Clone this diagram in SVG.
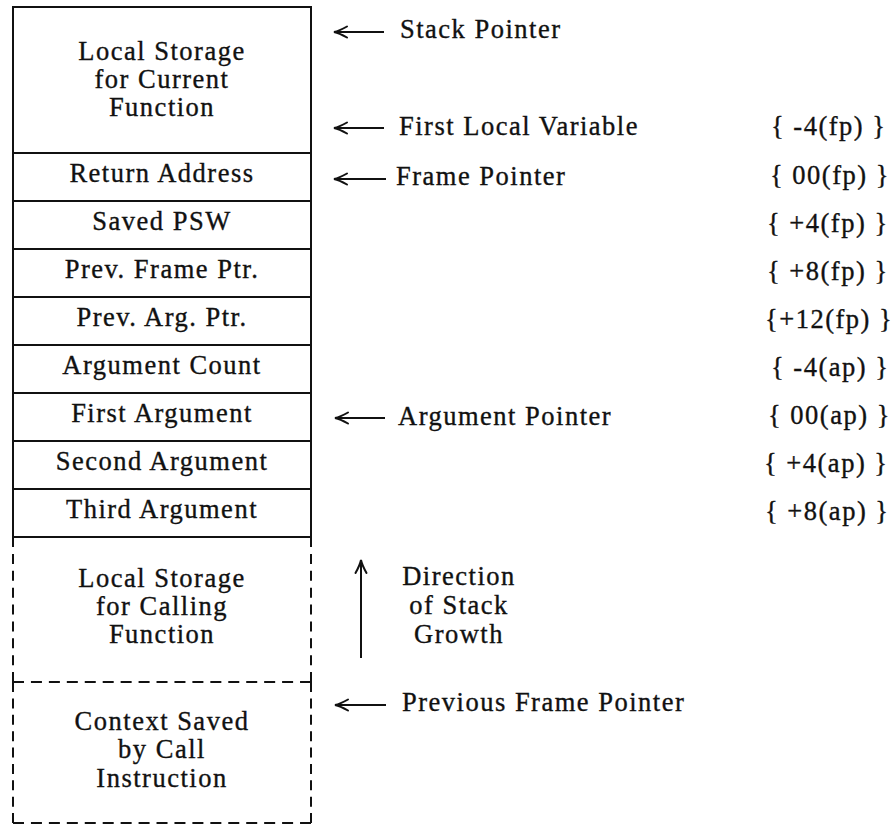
<svg xmlns="http://www.w3.org/2000/svg" width="895" height="826" viewBox="0 0 895 826">
  <style>
    .t { font-family: "Liberation Serif", "Times New Roman", serif; font-size: 26.5px; letter-spacing: 1.5px; fill: #111; stroke: #111; stroke-width: 0.35px; }
    .c { text-anchor: middle; }
    .box { fill: none; stroke: #111; stroke-width: 2; }
    .dv1 { fill: none; stroke: #111; stroke-width: 2; stroke-dasharray: 10 6.875; }
    .dv2 { fill: none; stroke: #111; stroke-width: 2; stroke-dasharray: 10 6.375; }
    .dh { fill: none; stroke: #111; stroke-width: 2; stroke-dasharray: 11 6.94; }
    .arrow { fill: none; stroke: #111; stroke-width: 2; marker-end: url(#head); }
  </style>
  <defs>
    <marker id="head" viewBox="-15 -8 17 16" refX="0" refY="0" markerWidth="17" markerHeight="16" markerUnits="userSpaceOnUse" orient="auto">
      <path d="M-13,-5.5 Q-5,-1 0,0 Q-5,1 -13,5.5" fill="none" stroke="#111" stroke-width="2" stroke-linecap="round"/>
    </marker>
  </defs>
  <rect width="895" height="826" fill="#fff"/>

  <!-- current frame: solid cells -->
  <g id="local-current">
    <rect class="box" x="13" y="7" width="298" height="146"/>
    <text class="t c" x="162" y="60">Local Storage</text>
    <text class="t c" x="162" y="88">for Current</text>
    <text class="t c" x="162" y="116">Function</text>
  </g>
  <g id="return-address">
    <rect class="box" x="13" y="153" width="298" height="48"/>
    <text class="t c" x="162" y="182">Return Address</text>
  </g>
  <g id="saved-psw">
    <rect class="box" x="13" y="201" width="298" height="48"/>
    <text class="t c" x="162" y="230">Saved PSW</text>
  </g>
  <g id="prev-frame-ptr">
    <rect class="box" x="13" y="249" width="298" height="48"/>
    <text class="t c" x="162" y="278">Prev. Frame Ptr.</text>
  </g>
  <g id="prev-arg-ptr">
    <rect class="box" x="13" y="297" width="298" height="48"/>
    <text class="t c" x="162" y="326">Prev. Arg. Ptr.</text>
  </g>
  <g id="argument-count">
    <rect class="box" x="13" y="345" width="298" height="48"/>
    <text class="t c" x="162" y="374">Argument Count</text>
  </g>
  <g id="first-argument">
    <rect class="box" x="13" y="393" width="298" height="48"/>
    <text class="t c" x="162" y="422">First Argument</text>
  </g>
  <g id="second-argument">
    <rect class="box" x="13" y="441" width="298" height="48"/>
    <text class="t c" x="162" y="470">Second Argument</text>
  </g>
  <g id="third-argument">
    <rect class="box" x="13" y="489" width="298" height="48"/>
    <text class="t c" x="162" y="518">Third Argument</text>
  </g>

  <!-- caller's frame: dashed cells -->
  <g id="local-calling">
    <line class="dv1" x1="13" y1="537" x2="13" y2="682"/>
    <line class="dv1" x1="311" y1="537" x2="311" y2="682"/>
    <line class="dh" x1="13" y1="682" x2="311" y2="682"/>
    <text class="t c" x="162" y="587">Local Storage</text>
    <text class="t c" x="162" y="615">for Calling</text>
    <text class="t c" x="162" y="643">Function</text>
  </g>
  <g id="context-saved">
    <line class="dv2" x1="13" y1="682" x2="13" y2="823"/>
    <line class="dv2" x1="311" y1="682" x2="311" y2="823"/>
    <line class="dh" x1="13" y1="823" x2="311" y2="823"/>
    <text class="t c" x="162" y="730">Context Saved</text>
    <text class="t c" x="162" y="758">by Call</text>
    <text class="t c" x="162" y="787">Instruction</text>
  </g>

  <!-- pointer arrows -->
  <g id="connectors">
    <line class="arrow" x1="384" y1="32" x2="334" y2="32"/>
    <line class="arrow" x1="384" y1="128" x2="334" y2="128"/>
    <line class="arrow" x1="386" y1="179" x2="334" y2="179"/>
    <line class="arrow" x1="385" y1="418" x2="335" y2="418"/>
    <line class="arrow" x1="386" y1="705" x2="335" y2="705"/>
    <line class="arrow" x1="361" y1="658" x2="361" y2="560"/>
  </g>

  <!-- pointer names -->
  <g id="stack-pointer"><text class="t" x="400" y="38">Stack Pointer</text></g>
  <g id="first-local-variable"><text class="t" x="399" y="135">First Local Variable</text></g>
  <g id="frame-pointer"><text class="t" x="396" y="185">Frame Pointer</text></g>
  <g id="argument-pointer"><text class="t" x="398" y="425">Argument Pointer</text></g>
  <g id="previous-frame-pointer"><text class="t" x="402" y="711">Previous Frame Pointer</text></g>
  <g id="stack-growth">
    <text class="t c" x="459" y="585">Direction</text>
    <text class="t c" x="459" y="614">of Stack</text>
    <text class="t c" x="459" y="643">Growth</text>
  </g>

  <!-- offsets from fp / ap -->
  <g id="offsets">
    <text class="t" x="771" y="135">{ -4(fp) }</text>
    <text class="t" x="770" y="184">{ 00(fp) }</text>
    <text class="t" x="767" y="232">{ +4(fp) }</text>
    <text class="t" x="767" y="280">{ +8(fp) }</text>
    <text class="t" x="765" y="328">{+12(fp) }</text>
    <text class="t" x="771" y="376">{ -4(ap) }</text>
    <text class="t" x="768" y="424">{ 00(ap) }</text>
    <text class="t" x="764" y="472">{ +4(ap) }</text>
    <text class="t" x="765" y="520">{ +8(ap) }</text>
  </g>
</svg>
